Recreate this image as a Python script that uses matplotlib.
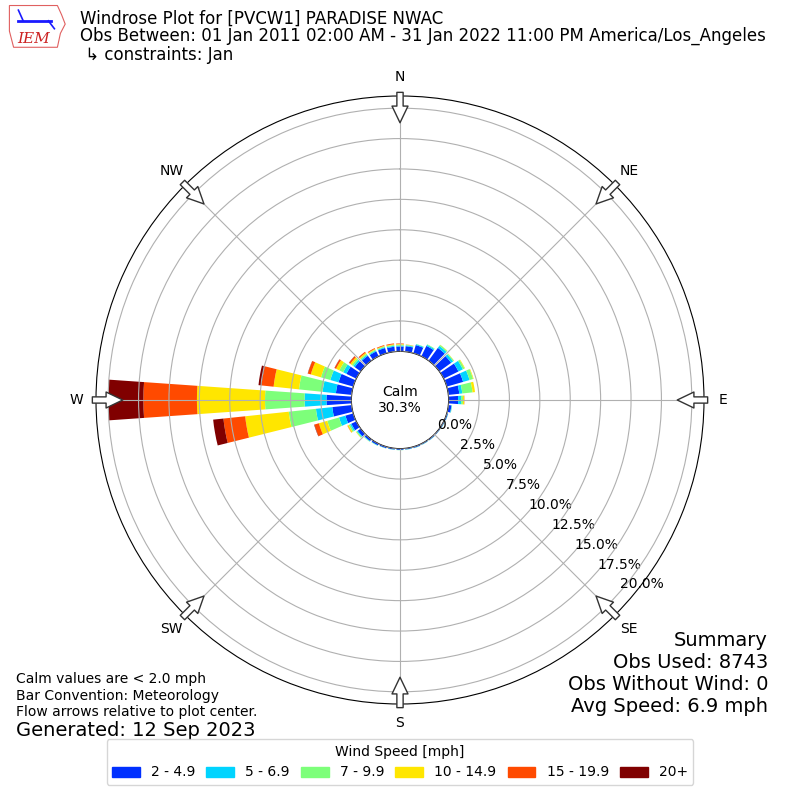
import numpy as np
import matplotlib.pyplot as plt
from matplotlib.patches import Patch, Polygon

# ---------------------------------------------------------
# data (percent of observations, by direction and speed bin)
# ---------------------------------------------------------
directions = np.arange(0, 360, 10)
speed_labels = ["2 - 4.9", "5 - 6.9", "7 - 9.9", "10 - 14.9", "15 - 19.9", "20+"]
speed_colors = ["#0030ff", "#00d4ff", "#7dff7a", "#ffe600", "#ff4a00", "#800000"]

pct_2_5 = [0.40, 0.45, 0.70, 0.95, 1.30, 1.20, 1.35, 1.40, 0.90, 0.78, 0.25, 0.10,
           0.08, 0.08, 0.09, 0.08, 0.10, 0.09, 0.10, 0.10, 0.12, 0.15, 0.18, 0.30,
           0.45, 0.67, 1.60, 2.05, 1.30, 1.26, 0.90, 0.60, 0.50, 0.45, 0.45, 0.40]
pct_5_7 = [0.08, 0.07, 0.07, 0.10, 0.20, 0.20, 0.40, 0.55, 0.25, 0.25, 0.04, 0.02,
           0.02, 0.01, 0.02, 0.02, 0.02, 0.02, 0.02, 0.02, 0.02, 0.03, 0.04, 0.08,
           0.12, 0.55, 1.35, 1.80, 1.10, 0.70, 0.30, 0.15, 0.10, 0.08, 0.07, 0.08]
pct_7_10 = [0.07, 0.05, 0.03, 0.05, 0.10, 0.08, 0.15, 0.30, 0.85, 0.15, 0.02, 0.01,
            0.01, 0.01, 0.01, 0.01, 0.01, 0.01, 0.01, 0.01, 0.01, 0.02, 0.03, 0.07,
            0.13, 1.00, 2.25, 3.25, 1.95, 0.80, 0.35, 0.15, 0.10, 0.08, 0.07, 0.07]
pct_10_15 = [0.05, 0.02, 0.00, 0.00, 0.02, 0.02, 0.05, 0.05, 0.20, 0.10, 0.00, 0.00,
             0.00, 0.00, 0.00, 0.00, 0.00, 0.00, 0.00, 0.00, 0.00, 0.00, 0.00, 0.03,
             0.10, 0.72, 3.60, 5.60, 2.10, 0.87, 0.30, 0.15, 0.10, 0.07, 0.05, 0.06]
pct_15_20 = [0.05, 0.01, 0.00, 0.00, 0.00, 0.00, 0.00, 0.00, 0.00, 0.02, 0.00, 0.00,
             0.00, 0.00, 0.00, 0.00, 0.00, 0.00, 0.00, 0.00, 0.00, 0.00, 0.00, 0.00,
             0.02, 0.38, 1.80, 4.40, 1.00, 0.25, 0.13, 0.13, 0.10, 0.07, 0.06, 0.07]
pct_20p = [0.00, 0.00, 0.00, 0.00, 0.00, 0.00, 0.00, 0.00, 0.00, 0.00, 0.00, 0.00,
           0.00, 0.00, 0.00, 0.00, 0.00, 0.00, 0.00, 0.00, 0.00, 0.00, 0.00, 0.00,
           0.00, 0.03, 0.85, 2.90, 0.25, 0.02, 0.02, 0.02, 0.00, 0.00, 0.00, 0.00]

calm_pct = 30.3
ring_values = [0, 2.5, 5, 7.5, 10, 12.5, 15, 17.5, 20]
compass = ["N", "NE", "E", "SE", "S", "SW", "W", "NW"]

# ---------------------------------------------------------
# figure
# ---------------------------------------------------------
fig = plt.figure(figsize=(8, 8), dpi=100)
ax = fig.add_axes([0.12, 0.12, 0.76, 0.76], projection="polar")
ax.set_theta_zero_location("N")
ax.set_theta_direction(-1)
ax.set_rorigin(-4.0)
ax.set_ylim(0, 21)

theta = np.radians(directions)
width = np.radians(10) * 0.8
bottom = np.zeros(len(directions))
for vals, col in zip([pct_2_5, pct_5_7, pct_7_10, pct_10_15, pct_15_20, pct_20p],
                     speed_colors):
    vals = np.array(vals)
    ax.bar(theta, vals, width=width, bottom=bottom, color=col, linewidth=0, zorder=1)
    bottom = bottom + vals

ax.set_axisbelow(False)
ax.grid(True, color="#b0b0b0", linewidth=0.8)
ax.set_thetagrids(np.arange(0, 360, 45), labels=compass, fontsize=10)
ax.set_rgrids(ring_values, labels=[f"{v:.1f}%" for v in ring_values],
              angle=131, fontsize=10)
ax.spines["inner"].set_color("black")

ax.text(0, -4.0, f"Calm\n{calm_pct:.1f}%", ha="center", va="center",
        fontsize=10, transform=ax.transData, zorder=5)

# flow arrows pointing to plot center
for ang in np.arange(0, 360, 45):
    ax.annotate("", xy=(np.radians(ang), 18.8), xytext=(np.radians(ang), 21.3),
                arrowprops=dict(arrowstyle="simple,head_width=1.15,head_length=1.2,tail_width=0.45",
                                fc="white", ec="#333333", lw=1, shrinkA=0, shrinkB=0),
                annotation_clip=False, zorder=6)

# ---------------------------------------------------------
# header, logo and notes
# ---------------------------------------------------------
fig.text(80 / 800, 1 - 19 / 800, "Windrose Plot for [PVCW1] PARADISE NWAC",
         fontsize=12, va="center")
fig.text(80 / 800, 1 - 36 / 800,
         "Obs Between: 01 Jan 2011 02:00 AM - 31 Jan 2022 11:00 PM America/Los_Angeles",
         fontsize=12, va="center")
fig.text(80 / 800, 1 - 55 / 800, " ↳ constraints: Jan", fontsize=12, va="center")

logo = fig.add_axes([0.008, 0.938, 0.075, 0.058])
logo.set_xlim(0, 1)
logo.set_ylim(0, 1)
logo.axis("off")
logo.add_patch(Polygon([[0.05, 0.95], [0.85, 0.95], [0.92, 0.75], [0.98, 0.55],
                        [0.90, 0.35], [0.85, 0.05], [0.12, 0.05], [0.05, 0.4]],
                       closed=True, fc="white", ec="#e06060", lw=0.8))
logo.plot([0.2, 0.75], [0.62, 0.62], color="#1a1aff", lw=2)
logo.plot([0.28, 0.2], [0.62, 0.85], color="#1a1aff", lw=1.2)
logo.plot([0.7, 0.8], [0.62, 0.45], color="#1a1aff", lw=1.2)
logo.text(0.45, 0.22, "IEM", color="#cc2222", fontsize=11, style="italic",
          family="DejaVu Serif", ha="center", va="center")

fig.text(16 / 800, 1 - 679 / 800, "Calm values are < 2.0 mph", fontsize=10, va="center")
fig.text(16 / 800, 1 - 696 / 800, "Bar Convention: Meteorology", fontsize=10, va="center")
fig.text(16 / 800, 1 - 712 / 800, "Flow arrows relative to plot center.", fontsize=10,
         va="center")
fig.text(16 / 800, 1 - 730 / 800, "Generated: 12 Sep 2023", fontsize=14, va="center")

fig.text(768 / 800, 1 - 640 / 800, "Summary", fontsize=14, ha="right", va="center")
fig.text(768 / 800, 1 - 662 / 800, "Obs Used: 8743", fontsize=14, ha="right", va="center")
fig.text(768 / 800, 1 - 684 / 800, "Obs Without Wind: 0", fontsize=14, ha="right",
         va="center")
fig.text(768 / 800, 1 - 706 / 800, "Avg Speed: 6.9 mph", fontsize=14, ha="right",
         va="center")

handles = [Patch(color=c) for c in speed_colors]
fig.legend(handles, speed_labels, loc="lower center", bbox_to_anchor=(0.5, 0.01),
           ncol=6, title="Wind Speed [mph]", fontsize=10, title_fontsize=10,
           columnspacing=0.8)

fig.savefig("out.png", dpi=100)
